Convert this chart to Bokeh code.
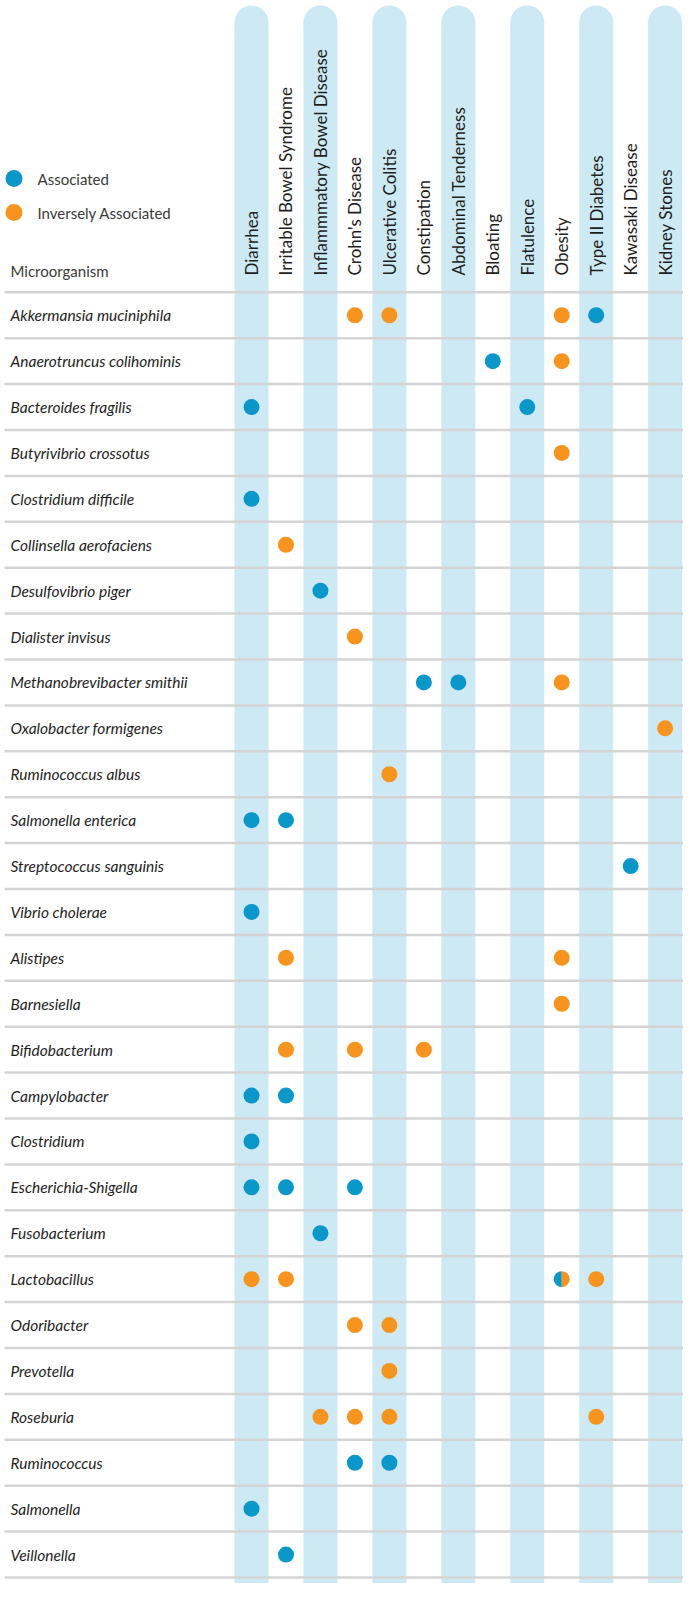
import math
from bokeh.plotting import figure
from bokeh.models import Range1d
from bokeh.core.properties import value
from bokeh.embed import file_html
from bokeh.resources import INLINE

# ---------------- data ----------------
diseases = ["Diarrhea", "Irritable Bowel Syndrome", "Inflammmatory Bowel Disease",
            "Crohn's Disease", "Ulcerative Colitis", "Constipation",
            "Abdominal Tenderness", "Bloating", "Flatulence", "Obesity",
            "Type II Diabetes", "Kawasaki Disease", "Kidney Stones"]

microbes = ["Akkermansia muciniphila", "Anaerotruncus colihominis", "Bacteroides fragilis",
            "Butyrivibrio crossotus", "Clostridium difficile", "Collinsella aerofaciens",
            "Desulfovibrio piger", "Dialister invisus", "Methanobrevibacter smithii",
            "Oxalobacter formigenes", "Ruminococcus albus", "Salmonella enterica",
            "Streptococcus sanguinis", "Vibrio cholerae", "Alistipes", "Barnesiella",
            "Bifidobacterium", "Campylobacter", "Clostridium", "Escherichia-Shigella",
            "Fusobacterium", "Lactobacillus", "Odoribacter", "Prevotella", "Roseburia",
            "Ruminococcus", "Salmonella", "Veillonella"]

# A = Associated, I = Inversely Associated, B = both
assoc_microbe = [
    "Akkermansia muciniphila", "Akkermansia muciniphila", "Akkermansia muciniphila", "Akkermansia muciniphila",
    "Anaerotruncus colihominis", "Anaerotruncus colihominis",
    "Bacteroides fragilis", "Bacteroides fragilis",
    "Butyrivibrio crossotus",
    "Clostridium difficile",
    "Collinsella aerofaciens",
    "Desulfovibrio piger",
    "Dialister invisus",
    "Methanobrevibacter smithii", "Methanobrevibacter smithii", "Methanobrevibacter smithii",
    "Oxalobacter formigenes",
    "Ruminococcus albus",
    "Salmonella enterica", "Salmonella enterica",
    "Streptococcus sanguinis",
    "Vibrio cholerae",
    "Alistipes", "Alistipes",
    "Barnesiella",
    "Bifidobacterium", "Bifidobacterium", "Bifidobacterium",
    "Campylobacter", "Campylobacter",
    "Clostridium",
    "Escherichia-Shigella", "Escherichia-Shigella", "Escherichia-Shigella",
    "Fusobacterium",
    "Lactobacillus", "Lactobacillus", "Lactobacillus", "Lactobacillus",
    "Odoribacter", "Odoribacter",
    "Prevotella",
    "Roseburia", "Roseburia", "Roseburia", "Roseburia",
    "Ruminococcus", "Ruminococcus",
    "Salmonella",
    "Veillonella",
]
assoc_disease = [
    "Crohn's Disease", "Ulcerative Colitis", "Obesity", "Type II Diabetes",
    "Bloating", "Obesity",
    "Diarrhea", "Flatulence",
    "Obesity",
    "Diarrhea",
    "Irritable Bowel Syndrome",
    "Inflammmatory Bowel Disease",
    "Crohn's Disease",
    "Constipation", "Abdominal Tenderness", "Obesity",
    "Kidney Stones",
    "Ulcerative Colitis",
    "Diarrhea", "Irritable Bowel Syndrome",
    "Kawasaki Disease",
    "Diarrhea",
    "Irritable Bowel Syndrome", "Obesity",
    "Obesity",
    "Irritable Bowel Syndrome", "Crohn's Disease", "Constipation",
    "Diarrhea", "Irritable Bowel Syndrome",
    "Diarrhea",
    "Diarrhea", "Irritable Bowel Syndrome", "Crohn's Disease",
    "Inflammmatory Bowel Disease",
    "Diarrhea", "Irritable Bowel Syndrome", "Obesity", "Type II Diabetes",
    "Crohn's Disease", "Ulcerative Colitis",
    "Ulcerative Colitis",
    "Inflammmatory Bowel Disease", "Crohn's Disease", "Ulcerative Colitis", "Type II Diabetes",
    "Crohn's Disease", "Ulcerative Colitis",
    "Diarrhea",
    "Irritable Bowel Syndrome",
]
assoc_kind = [
    "I", "I", "I", "A",
    "A", "I",
    "A", "A",
    "I",
    "A",
    "I",
    "A",
    "I",
    "A", "A", "I",
    "I",
    "I",
    "A", "A",
    "A",
    "A",
    "I", "I",
    "I",
    "I", "I", "I",
    "A", "A",
    "A",
    "A", "A", "A",
    "A",
    "I", "I", "B", "I",
    "I", "I",
    "I",
    "I", "I", "I", "I",
    "A", "A",
    "A",
    "A",
]

legend_labels = ["Associated", "Inversely Associated"]

# ---------------- style / layout ----------------
BLUE = "#0a97c9"
ORANGE = "#f7941d"
BAND = "#cde9f3"
RULE = "#d4d4d4"
TEXT = "#1e1e1e"
FONT = "Lato"

W, H = 683, 1583
OFF = 0
COL0, COL_STEP = 251.0, 34.47
ROW0, ROW_STEP = 314.75, 45.9


def X(px):
    return (px - COL0) / COL_STEP


def Y(py):
    return (py - ROW0) / ROW_STEP


p = figure(width=W, height=H, output_backend="svg", toolbar_location=None,
           x_range=Range1d(X(OFF), X(OFF + W)),
           y_range=Range1d(Y(OFF + H), Y(OFF)),
           x_axis_type=None, y_axis_type=None, min_border=0,
           outline_line_color=None, background_fill_color="white")
p.grid.visible = False

ncol = len(diseases)
nrow = len(microbes)

# bands on alternating columns
band_cols = [i for i in range(ncol) if i % 2 == 0]
p.vbar(x=band_cols, width=34 / COL_STEP, top=Y(22), bottom=Y(1605),
       fill_color=BAND, line_color=None)
p.scatter(x=band_cols, y=[Y(22)] * len(band_cols), size=34, marker="circle",
          fill_color=BAND, line_color=None)

# row separators
ks = [k - 0.5 for k in range(nrow + 1)]
p.segment(x0=[X(4)] * len(ks), x1=[X(693)] * len(ks), y0=ks, y1=ks,
          line_color=RULE, line_width=2.5)

# column headers
p.text(x=list(range(ncol)), y=[Y(275)] * ncol, text=diseases, angle=math.pi / 2,
       text_align="left", text_baseline="middle", text_font=value(FONT),
       text_font_size="17px", text_color=TEXT)

# row labels
p.text(x=[X(10)] * nrow, y=list(range(nrow)), text=microbes,
       text_align="left", text_baseline="middle", text_font=value(FONT),
       text_font_style="italic", text_font_size="15.5px", text_color=TEXT)

# header labels / legend
p.text(x=[X(10)], y=[Y(270)], text=["Microorganism"], text_align="left",
       text_baseline="middle", text_font=value(FONT), text_font_size="15px",
       text_color="#3a3a3a")
p.scatter(x=[X(13.5)] * 2, y=[Y(178), Y(212)], size=17, marker="circle",
          fill_color=[BLUE, ORANGE], line_color=None)
p.text(x=[X(37)] * 2, y=[Y(178), Y(212)], text=legend_labels, text_align="left",
       text_baseline="middle", text_font=value(FONT), text_font_size="15px",
       text_color="#3a3a3a")

# dots
xs, ys, cs = [], [], []
bx, by = [], []
for m, d, k in zip(assoc_microbe, assoc_disease, assoc_kind):
    xi = diseases.index(d)
    yi = microbes.index(m)
    if k == "B":
        bx.append(xi)
        by.append(yi)
    else:
        xs.append(xi)
        ys.append(yi)
        cs.append(BLUE if k == "A" else ORANGE)

p.scatter(x=xs, y=ys, size=16, marker="circle", fill_color=cs, line_color=None)
if bx:
    p.wedge(x=bx, y=by, radius=8, radius_units="screen",
            start_angle=math.pi / 2, end_angle=3 * math.pi / 2,
            fill_color=BLUE, line_color=None)
    p.wedge(x=bx, y=by, radius=8, radius_units="screen",
            start_angle=-math.pi / 2, end_angle=math.pi / 2,
            fill_color=ORANGE, line_color=None)

open("out.html", "w").write(file_html(p, INLINE))
